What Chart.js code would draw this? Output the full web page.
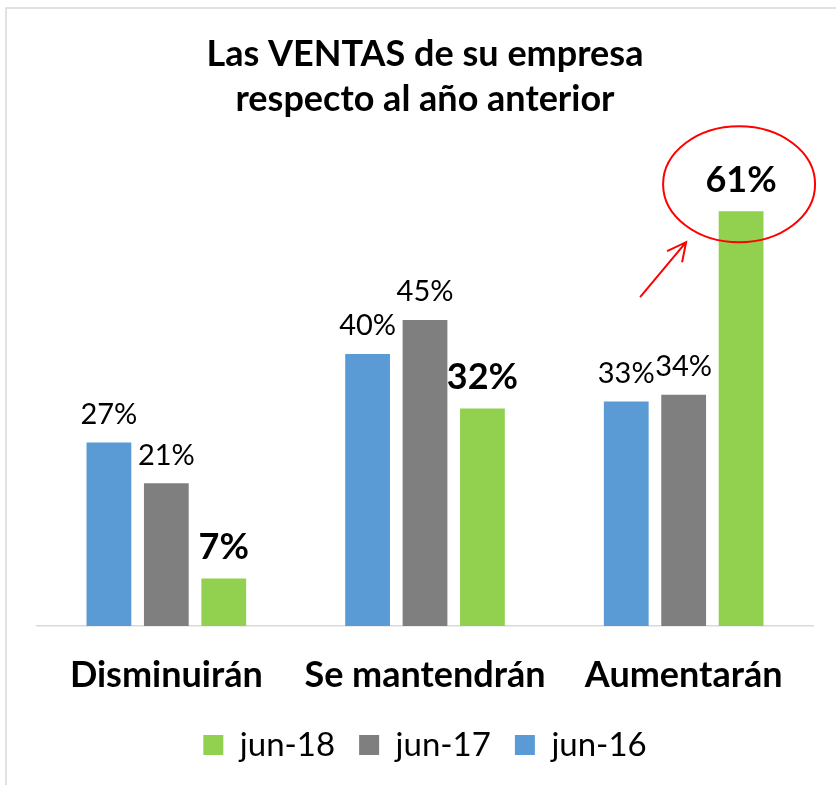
<!DOCTYPE html>
<html>
<head>
<meta charset="utf-8">
<script src="https://cdn.jsdelivr.net/npm/chart.js@4/dist/chart.umd.min.js"></script>
<style>
html,body{margin:0;padding:0;background:#fff;}
#wrap{width:836px;height:785px;position:relative;}
</style>
</head>
<body>
<div id="wrap"><canvas id="c" width="836" height="785"></canvas></div>
<script>
const categories = ['Disminuirán', 'Se mantendrán', 'Aumentarán'];
const seriesNames = ['jun-16', 'jun-17', 'jun-18'];
const jun16 = [27, 40, 33];
const jun17 = [21, 45, 34];
const jun18 = [7, 32, 61];
const titleLines = ['Las VENTAS de su empresa', 'respecto al año anterior'];

const FONT = 'Lato, "Open Sans", sans-serif';

const frame = {
  id: 'frame',
  beforeDraw(chart) {
    const ctx = chart.ctx;
    ctx.save();
    ctx.fillStyle = '#fff';
    ctx.fillRect(0, 0, chart.width, chart.height);
    ctx.strokeStyle = '#d9d9d9';
    ctx.lineWidth = 1.5;
    ctx.beginPath();
    ctx.moveTo(6, 785);
    ctx.lineTo(6, 8);
    ctx.lineTo(836, 8);
    ctx.stroke();
    ctx.restore();
  }
};

const valueLabels = {
  id: 'valueLabels',
  afterDatasetsDraw(chart) {
    const ctx = chart.ctx;
    ctx.save();
    ctx.fillStyle = '#000';
    ctx.textAlign = 'center';
    ctx.textBaseline = 'middle';
    chart.data.datasets.forEach((ds, di) => {
      const meta = chart.getDatasetMeta(di);
      const bold = di === 2;
      ctx.font = (bold ? 'bold 36px ' : '29px ') + FONT;
      meta.data.forEach((bar, i) => {
        ctx.fillText(ds.data[i] + '%', bar.x, bar.y - (bold ? 31 : 28));
      });
    });
    ctx.restore();
  }
};

const highlight = {
  id: 'highlight',
  afterDraw(chart) {
    const bar = chart.getDatasetMeta(2).data[2];
    if (!bar) return;
    const ctx = chart.ctx;
    ctx.save();
    ctx.strokeStyle = '#ff0000';
    ctx.lineWidth = 2;
    const cx = bar.x - 2, cy = bar.y - 27;
    ctx.beginPath();
    ctx.ellipse(cx, cy, 76, 58, 0, 0, Math.PI * 2);
    ctx.stroke();
    // arrow
    const tx = cx - 53, ty = cy + 58;
    const sx = cx - 99, sy = cy + 113;
    ctx.beginPath();
    ctx.moveTo(sx, sy);
    ctx.lineTo(tx, ty);
    ctx.moveTo(tx - 19, ty + 9);
    ctx.lineTo(tx, ty);
    ctx.lineTo(tx - 4, ty + 20);
    ctx.stroke();
    ctx.restore();
  }
};

new Chart(document.getElementById('c'), {
  type: 'bar',
  data: {
    labels: categories,
    datasets: [
      { label: seriesNames[0], data: jun16, backgroundColor: '#5b9bd5' },
      { label: seriesNames[1], data: jun17, backgroundColor: '#7f7f7f' },
      { label: seriesNames[2], data: jun18, backgroundColor: '#92d050' }
    ]
  },
  options: {
    responsive: false,
    animation: false,
    devicePixelRatio: 1,
    layout: { padding: { left: 37, right: 23, top: 0, bottom: 13.5 } },
    datasets: { bar: { categoryPercentage: 0.666, barPercentage: 0.78 } },
    scales: {
      x: {
        grid: { display: false, drawTicks: false },
        border: { display: true, color: '#d9d9d9', width: 1.5 },
        ticks: { color: '#000', font: { family: FONT, size: 36, weight: 'bold', lineHeight: 1.2 }, padding: 27.4 },
        afterFit(scale) { scale.height = 78.5; }
      },
      y: { display: false, min: 0, max: 70 }
    },
    plugins: {
      title: {
        display: true,
        text: titleLines,
        color: '#000',
        font: { family: FONT, size: 36, weight: 'bold', lineHeight: 1.25 },
        padding: { top: 32, bottom: 28 }
      },
      legend: {
        position: 'bottom',
        reverse: true,
        labels: {
          color: '#000',
          font: { family: FONT, size: 33 },
          boxWidth: 20, boxHeight: 20,
          padding: 24,
          useBorderRadius: false
        }
      },
      tooltip: { enabled: false }
    }
  },
  plugins: [frame, valueLabels, highlight]
});
</script>
</body>
</html>
